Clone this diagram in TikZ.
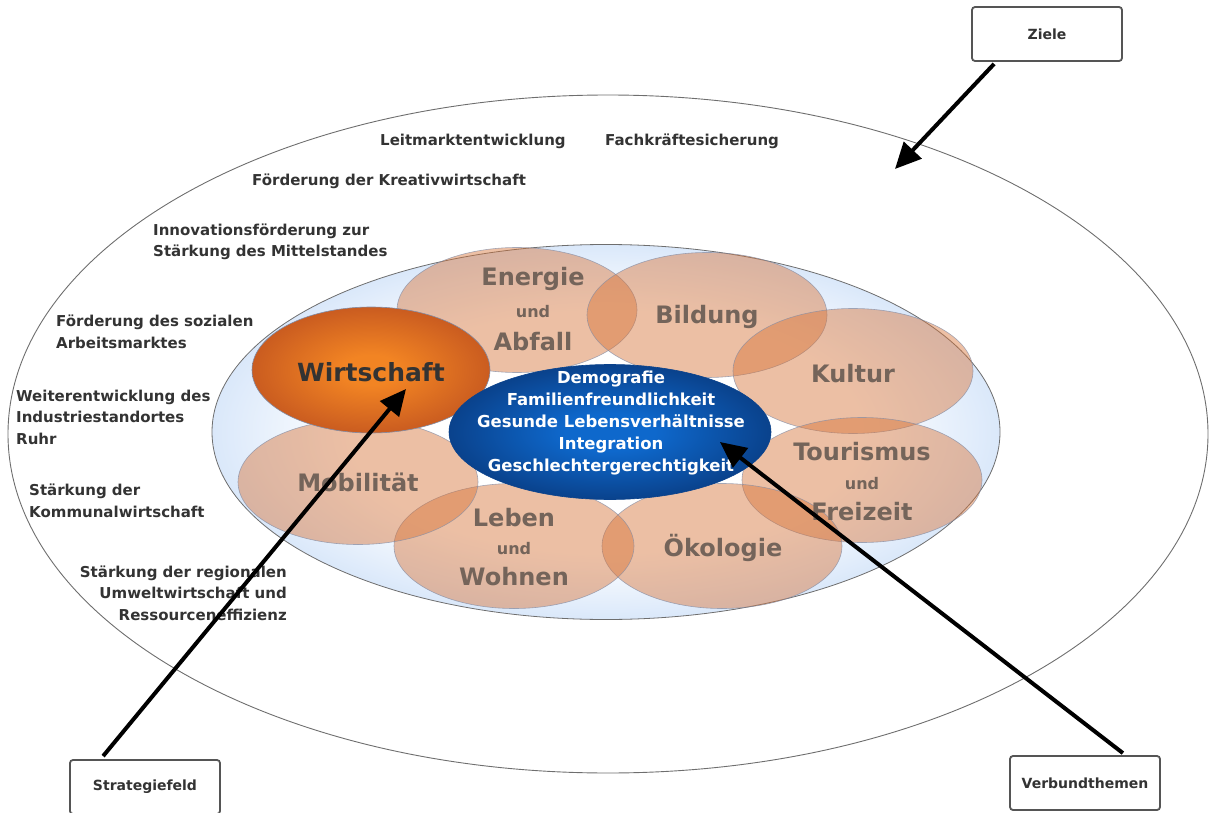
\documentclass[tikz,border=0pt]{standalone}
\usepackage{fontspec}
\setmainfont{DejaVu Sans}
\usetikzlibrary{arrows.meta,shapes.geometric,calc}
\definecolor{petalc}{RGB}{215,115,55}
\definecolor{petalborder}{RGB}{130,140,165}
\definecolor{ptextc}{RGB}{116,100,90}
\definecolor{goalc}{RGB}{51,51,51}
\definecolor{boxc}{RGB}{85,85,85}
\definecolor{outerc}{RGB}{110,110,110}
\definecolor{innerc}{RGB}{218,232,250}
\definecolor{orangein}{RGB}{242,132,35}
\definecolor{orangeout}{RGB}{202,92,32}
\definecolor{bluein}{RGB}{14,104,204}
\definecolor{blueout}{RGB}{10,66,140}
\pgfdeclareradialshading{innershade}{\pgfpoint{0bp}{0bp}}{color(0bp)=(white); color(16bp)=(white); color(25bp)=(innerc); color(50bp)=(innerc)}
\pgfdeclareradialshading{orangeshade}{\pgfpoint{0bp}{0bp}}{color(0bp)=(orangein); color(6bp)=(orangein); color(25bp)=(orangeout); color(50bp)=(orangeout)}
\pgfdeclareradialshading{blueshade}{\pgfpoint{0bp}{0bp}}{color(0bp)=(bluein); color(7bp)=(bluein); color(25bp)=(blueout); color(50bp)=(blueout)}
\begin{document}
\begin{tikzpicture}[x=1pt,y=-1pt,
  petal/.style={ellipse, inner sep=0, minimum width=240pt, minimum height=125pt,
    fill=petalc, fill opacity=0.45, draw=petalborder, draw opacity=0.7, line width=0.6pt},
  ptext/.style={text=ptextc, font=\bfseries\fontsize{24}{27}\selectfont, inner sep=0},
  undtext/.style={text=ptextc, font=\bfseries\fontsize{16}{18}\selectfont, inner sep=0},
  goal/.style={text=goalc, font=\bfseries\fontsize{15}{21.5}\selectfont, align=left, inner sep=0},
  goalr/.style={goal, align=right},
  boxnode/.style={draw=boxc, line width=1.8pt, rounded corners=3pt, fill=white,
    minimum width=150pt, minimum height=54pt, inner sep=0,
    font=\bfseries\fontsize{14}{16}\selectfont, text=goalc},
  arr/.style={line width=4pt, -{Triangle[length=26pt,width=24pt]}, black}
]
\useasboundingbox (0,0) rectangle (1210,813);

% outer ellipse
\node[ellipse, draw=outerc, line width=0.9pt, inner sep=0, minimum width=1200pt, minimum height=678pt] (outer) at (608,434) {};

% inner light ellipse
\node[ellipse, draw=outerc, line width=0.8pt, inner sep=0, minimum width=788pt, minimum height=375pt,
  shading=innershade] (inner) at (606,432) {};

% petals
\node[petal] (energie) at (517,310) {};
\node[petal] (bildung) at (707,315) {};
\node[petal] (kultur) at (853,371) {};
\node[petal] (tourismus) at (862,480) {};
\node[petal] (oekologie) at (722,546) {};
\node[petal] (leben) at (514,546) {};
\node[petal] (mobil) at (358,482) {};

% Wirtschaft
\node[ellipse, inner sep=0, minimum width=238pt, minimum height=126pt, draw=petalborder, line width=0.6pt,
  shading=orangeshade] (wirt) at (371,370) {};

% petal texts
\node[ptext] at (533,279) {Energie};
\node[undtext] at (533,312) {und};
\node[ptext] at (533,342) {Abfall};
\node[ptext] at (707,317) {Bildung};
\node[ptext] at (853,374) {Kultur};
\node[ptext] at (862,452) {Tourismus};
\node[undtext] at (862,484) {und};
\node[ptext] at (862,512) {Freizeit};
\node[ptext] at (723,548) {Ökologie};
\node[ptext] at (514,518) {Leben};
\node[undtext] at (514,549) {und};
\node[ptext] at (514,577) {Wohnen};
\node[ptext] at (358,482) {Mobilität};
\node[ptext, text=goalc, font=\bfseries\fontsize{25}{28}\selectfont] at (371,372) {Wirtschaft};

% blue central ellipse
\node[ellipse, inner sep=0, minimum width=322pt, minimum height=135pt, draw=blueout, line width=0.6pt,
  shading=blueshade] (verbund) at (610,432) {};
\node[text=white, font=\bfseries\fontsize{16.5}{22}\selectfont, align=center, inner sep=0] (vtext) at (611,423)
  {Demografie\\Familienfreundlichkeit\\Gesunde Lebensverhältnisse\\Integration\\Geschlechtergerechtigkeit};

% goals
\node[goal, anchor=west] (g1) at (380,141) {Leitmarktentwicklung};
\node[goal, anchor=west] (g2) at (605,141) {Fachkräftesicherung};
\node[goal, anchor=west] (g3) at (252,181) {Förderung der Kreativwirtschaft};
\node[goal, anchor=west] (g4) at (153,242) {Innovationsförderung zur\\Stärkung des Mittelstandes};
\node[goal, anchor=west] (g5) at (56,332) {Förderung des sozialen\\Arbeitsmarktes};
\node[goal, anchor=west] (g6) at (16,417) {Weiterentwicklung des\\Industriestandortes\\Ruhr};
\node[goal, anchor=west] (g7) at (29,501) {Stärkung der\\Kommunalwirtschaft};
\node[goalr, anchor=east] (g8) at (287,593) {Stärkung der regionalen\\Umweltwirtschaft und\\Ressourceneffizienz};

% boxes
\node[boxnode] (ziele) at (1047,34) {Ziele};
\node[boxnode] (strat) at (145,787) {Strategiefeld};
\node[boxnode] (vbox) at (1085,783) {Verbundthemen};

% arrow endpoints
\coordinate (zstart) at ($(ziele.south west)+(23,2)$);
\coordinate (ztip) at (895,169);
\coordinate (sstart) at ($(strat.north west)+(34,-3)$);
\coordinate (stip) at (406,389);
\coordinate (vstart) at ($(vbox.north east)+(-38,-2)$);
\coordinate (vtip) at (720,442);

\draw[arr] (zstart) -- (ztip);
\draw[arr] (sstart) -- (stip);
\draw[arr] (vstart) -- (vtip);
\end{tikzpicture}
\end{document}
